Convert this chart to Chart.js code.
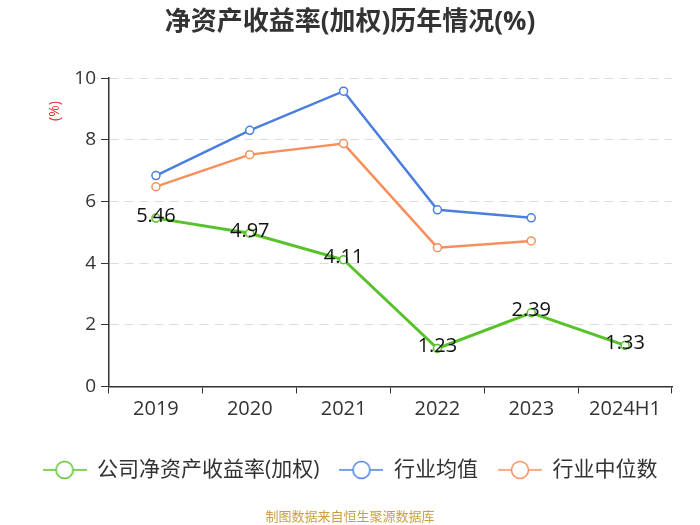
<!DOCTYPE html>
<html>
<head>
<meta charset="utf-8">
<script src="https://cdn.jsdelivr.net/npm/chart.js@4.4.1/dist/chart.umd.min.js"></script>
<style>
  html, body { margin: 0; padding: 0; background: #fff; }
  #wrap { width: 700px; height: 525px; }
</style>
</head>
<body>
<div id="wrap"><canvas id="roe"></canvas></div>
<script>
// ---- data ----
const years = ['2019', '2020', '2021', '2022', '2023', '2024H1'];
const companyRoe = [5.46, 4.97, 4.11, 1.23, 2.39, 1.33];
const industryAvg = [6.84, 8.31, 9.58, 5.73, 5.47, null];
const industryMedian = [6.48, 7.52, 7.88, 4.50, 4.72, null];
const yTicks = [0, 2, 4, 6, 8, 10];

const FONT = "'Open Sans', 'Noto Sans CJK SC', sans-serif";
const GREEN = '#58c22a';
const BLUE = '#4a7fe0';
const ORANGE = '#f78f5c';

// legend marker: short line with a hollow circle
function marker(color) {
    const c = document.createElement('canvas');
    c.width = 44; c.height = 22;
    const g = c.getContext('2d');
    g.strokeStyle = color;
    g.lineWidth = 1.5;
    g.beginPath(); g.moveTo(0, 11); g.lineTo(44, 11); g.stroke();
    g.beginPath(); g.arc(22, 11, 8.5, 0, Math.PI * 2);
    g.fillStyle = '#fff'; g.fill(); g.stroke();
    return c;
}

// value labels for the company series + the red "(%)" unit
const extras = {
    id: 'extras',
    afterDatasetsDraw(chart) {
        const ctx = chart.ctx;
        const meta = chart.getDatasetMeta(0);
        ctx.save();
        ctx.font = '20px ' + FONT;
        ctx.fillStyle = '#111';
        ctx.textAlign = 'center';
        ctx.textBaseline = 'middle';
        meta.data.forEach((pt, i) => {
            ctx.fillText(companyRoe[i].toFixed(2), pt.x, pt.y - 2);
        });
        ctx.translate(55, 111);
        ctx.rotate(-Math.PI / 2);
        ctx.font = '14px ' + FONT;
        ctx.fillStyle = '#e0312b';
        ctx.fillText('(%)', 0, 0);
        ctx.restore();
    }
};

const ds = (label, data, color, width) => ({
    label, data,
    borderColor: color,
    backgroundColor: '#fff',
    borderWidth: width,
    pointRadius: 4,
    pointBorderWidth: 1.5,
    pointBackgroundColor: '#fff',
    pointBorderColor: color,
    pointStyle: 'circle',
    legendMarker: marker(color),
    tension: 0,
    spanGaps: false
});

new Chart(document.getElementById('roe'), {
    type: 'line',
    data: {
        labels: years,
        datasets: [
            ds('公司净资产收益率(加权)', companyRoe, GREEN, 3),
            ds('行业均值', industryAvg, BLUE, 2.5),
            ds('行业中位数', industryMedian, ORANGE, 2.5)
        ]
    },
    options: {
        responsive: true,
        maintainAspectRatio: false,
        animation: false,
        layout: { padding: 0 },
        plugins: {
            title: {
                display: true,
                text: '净资产收益率(加权)历年情况(%)',
                color: '#333',
                font: { family: FONT, size: 26, weight: 'bold' },
                padding: { top: 7, bottom: 40 }
            },
            legend: {
                position: 'bottom',
                labels: {
                    color: '#333',
                    font: { family: FONT, size: 21 },
                    usePointStyle: true,
                    pointStyleWidth: 44,
                    padding: 20,
                    generateLabels(chart) {
                        return chart.data.datasets.map((d, i) => ({
                            text: d.label,
                            fontColor: '#333',
                            pointStyle: d.legendMarker,
                            datasetIndex: i,
                            hidden: false,
                            lineWidth: 0
                        }));
                    }
                }
            },
            subtitle: {
                display: true,
                position: 'bottom',
                text: '制图数据来自恒生聚源数据库',
                color: '#c9a13f',
                font: { family: FONT, size: 13 },
                padding: { top: 19, bottom: 0 }
            },
            tooltip: { enabled: false }
        },
        scales: {
            x: {
                offset: true,
                afterFit(axis) { axis.height = 53; },
                grid: { display: true, drawOnChartArea: false, offset: true, tickLength: 7, color: '#333' },
                border: { color: '#333', width: 1.5 },
                ticks: { color: '#333', font: { family: FONT, size: 20 }, padding: 4 }
            },
            y: {
                min: 0, max: 10,
                afterBuildTicks(axis) { axis.ticks = yTicks.map(v => ({ value: v })); },
                afterFit(axis) { axis.width = 109; },
                grid: { color: '#dcdcdc', tickLength: 8, tickColor: '#333', lineWidth: 1 },
                border: { color: '#333', width: 1.5, dash: [9, 6], display: true },
                ticks: { color: '#333', font: { family: FONT, size: 19 }, padding: 5 }
            },
            // empty right-hand gutter so the plot ends where the reference does
            gutter: {
                type: 'linear',
                position: 'right',
                min: 0, max: 10,
                afterFit(axis) { axis.width = 28; },
                grid: { display: false },
                border: { display: false },
                ticks: { display: false }
            }
        }
    },
    plugins: [extras]
});
</script>
</body>
</html>
